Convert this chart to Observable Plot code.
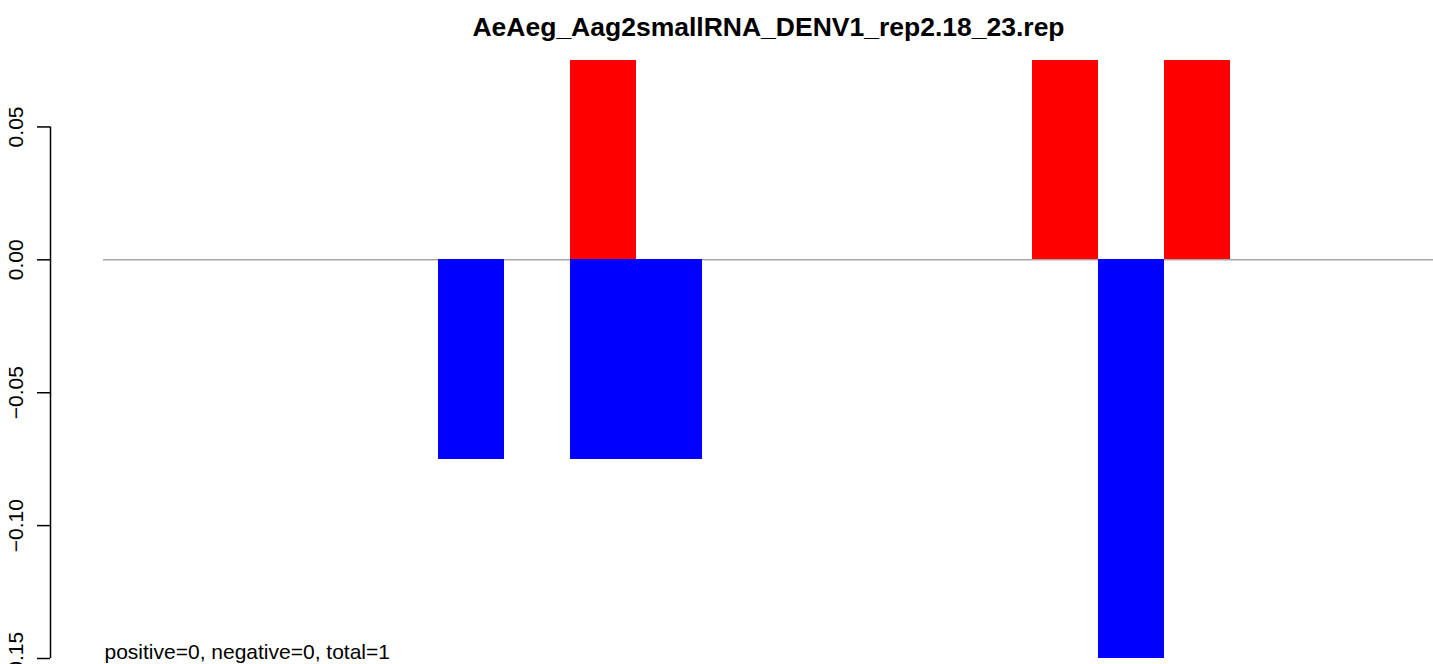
<!DOCTYPE html>
<html>
<head>
<meta charset="utf-8">
<script src="https://cdn.jsdelivr.net/npm/d3@7"></script>
<script src="https://cdn.jsdelivr.net/npm/@observablehq/plot@0.6"></script>
<style>
  html, body { margin: 0; padding: 0; background: #fff; }
  svg { display: block; }
</style>
</head>
<body>
<div id="chart"></div>
<script>
const title = "AeAeg_Aag2smallRNA_DENV1_rep2.18_23.rep";
const note = "positive=0, negative=0, total=1";
const positions = [1,2,3,4,5,6,7,8,9,10,11,12,13,14,15,16,17,18,19,20];
const positive = [0,0,0,0,0,0,0,0.075,0,0,0,0,0,0,0.075,0,0.075,0,0,0];
const negative = [0,0,0,0,0,-0.075,0,-0.075,-0.075,0,0,0,0,0,0,-0.15,0,0,0,0];
const yTicks = [0.05, 0.00, -0.05, -0.10, -0.15];
const yTickLabels = ["0.05", "0.00", "\u22120.05", "\u22120.10", "\u22120.15"];

const rows = positions.map((p, i) => ({pos: p, pv: positive[i], nv: negative[i]}));
const font = "'Liberation Sans', Arial, Helvetica, sans-serif";

const W = 1433, ML = 103, MR = 0;
const axisOffset = 53;
const frameCenter = ML + (W - ML - MR) / 2;

const chart = Plot.plot({
  width: W,
  height: 664,
  marginTop: 60,
  marginBottom: 6,
  marginLeft: ML,
  marginRight: MR,
  style: {fontFamily: font, fontSize: "21px", background: "#fff", color: "#000", overflow: "visible"},
  x: {type: "band", domain: positions, padding: 0, axis: null},
  y: {domain: [-0.15, 0.075], axis: null},
  marks: [
    Plot.ruleY([0], {stroke: "#a6a6a6", strokeWidth: 1.5}),
    Plot.barY(rows, {x: "pos", y: "pv", fill: "#ff0000", shapeRendering: "crispEdges"}),
    Plot.barY(rows, {x: "pos", y: "nv", fill: "#0000ff", shapeRendering: "crispEdges"}),
    Plot.axisY({ticks: yTicks, tickSize: 13, dx: -axisOffset, fill: "none", label: null, stroke: "#000", strokeWidth: 1.5}),
    Plot.ruleX([0], {x: null, y1: d3.max(yTicks), y2: d3.min(yTicks), dx: -(frameCenter - (ML - axisOffset)), stroke: "#000", strokeWidth: 1.5}),
    Plot.text(yTicks, {y: d => d, text: (d, i) => yTickLabels[i], frameAnchor: "left", dx: -81, rotate: -90, textAnchor: "middle", lineAnchor: "bottom", fontSize: 21, fill: "#000"}),
    Plot.text([title], {frameAnchor: "top", dy: -25, lineAnchor: "bottom", fontSize: 26.5, fontWeight: "bold", fill: "#000"}),
    Plot.text([note], {frameAnchor: "bottom-left", dx: 1, dy: 0, textAnchor: "start", lineAnchor: "bottom", fontSize: 21, fill: "#000"})
  ]
});
document.getElementById("chart").appendChild(chart);
</script>
</body>
</html>
